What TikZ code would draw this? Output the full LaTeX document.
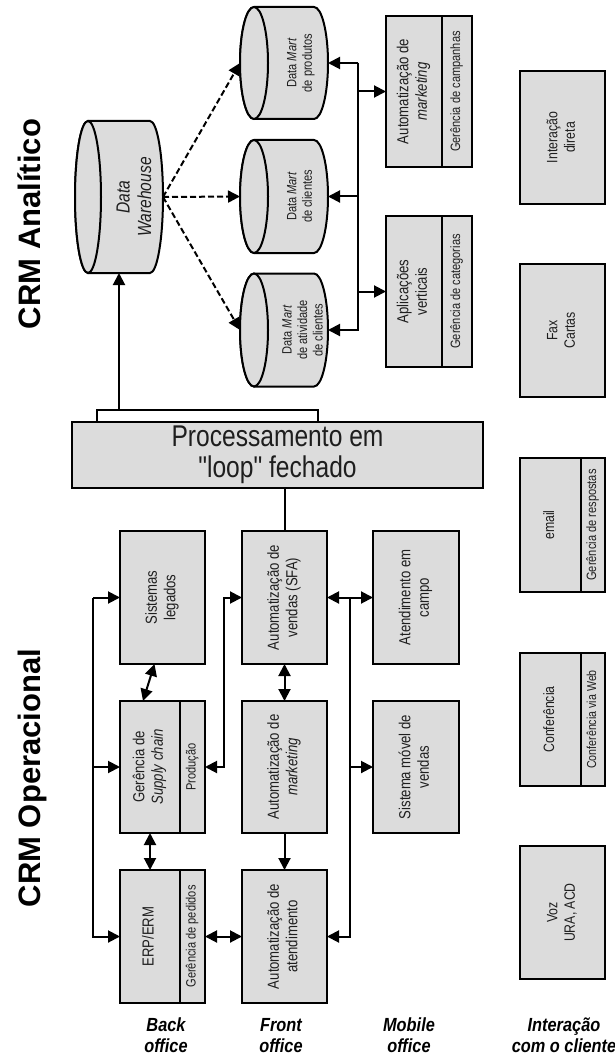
\documentclass[tikz,border=0pt]{standalone}
\usepackage{graphicx}
\usepackage{fontspec}
\setmainfont{Liberation Sans}
\newfontfamily\narrowfont{Liberation Sans}[FakeStretch=0.82]
\newfontfamily\labelfont{Liberation Sans}[FakeStretch=0.86]
\usetikzlibrary{arrows.meta,calc}
\definecolor{BoxGray}{RGB}{220,220,220}
\definecolor{InkGray}{RGB}{30,30,30}

\newcommand{\vlabel}[1]{\rotatebox{90}{\begin{tabular}{@{}c@{}}#1\end{tabular}}}
%% cylinder lying on its side, drawn round an empty node
\newcommand{\drum}[3]{%
  \draw[cyl] ($(#1.north west)+(#2,0)$) -- ($(#1.north east)-(#2,0)$)
    arc[start angle=90,end angle=-90,x radius=#2,y radius=#3]
    -- ($(#1.south west)+(#2,0)$)
    arc[start angle=270,end angle=90,x radius=#2,y radius=#3] -- cycle;
  \draw[cyl] ($(#1.west)+(#2,0)$) ellipse[x radius=#2,y radius=#3];}

\begin{document}
\begin{tikzpicture}[x=1pt,y=1pt,
    box/.style={draw=black, line width=2pt, fill=BoxGray, inner sep=0pt, outer sep=0pt,
      text=InkGray, font=\narrowfont\fontsize{16}{18.5}\selectfont},
    txt/.style={inner sep=0pt, text=InkGray},
    slot/.style={inner sep=0pt, outer sep=0pt},
    small/.style={font=\narrowfont\fontsize{13.5}{15.5}\selectfont},
    contact/.style={font=\narrowfont\fontsize{15}{17.5}\selectfont},
    tall/.style={minimum width=85pt, minimum height=133pt},
    cyl/.style={draw=black, line width=2pt, fill=BoxGray},
    link/.style={line width=2pt},
    arr/.style={link, -{Triangle[length=12pt,width=12pt]}},
    arrr/.style={link, {Triangle[length=12pt,width=12pt]}-{Triangle[length=12pt,width=12pt]}},
    feed/.style={arr, dash pattern=on 6pt off 3pt},
    title/.style={rotate=90, anchor=base, inner sep=0pt, font=\bfseries\fontsize{31}{36}\selectfont},
    lbl/.style={anchor=north, align=center, inner sep=0pt, font=\labelfont\bfseries\itshape\fontsize{19}{21}\selectfont}]
    \useasboundingbox (0,0) rectangle (615,-1059);

    %%CRM analitico
    \node[title] (titAna) at (40,-224) {CRM Analítico};
    \node[slot, minimum width=88pt, minimum height=152pt] (dw) at (119,-197) {};
    \drum{dw}{13}{76}
    \node[txt, font=\narrowfont\itshape\fontsize{19}{21.5}\selectfont] (dwTxt) at (136,-197) {\vlabel{Data\\Warehouse}};

    %% data marts
    \node[slot, minimum width=88pt, minimum height=112pt] (dmProd) at (284,-63) {};
    \node[slot, minimum width=88pt, minimum height=113pt] (dmCli) at (284,-196.5) {};
    \node[slot, minimum width=88pt, minimum height=113pt] (dmAtiv) at (284,-330) {};
    \drum{dmProd}{14}{56}
    \drum{dmCli}{14}{56.5}
    \drum{dmAtiv}{14}{56.5}
    \node[txt, small] (dmProdTxt) at (301,-63) {\vlabel{Data \textit{Mart}\\de produtos}};
    \node[txt, small] (dmCliTxt) at (301,-196.5) {\vlabel{Data \textit{Mart}\\de clientes}};
    \node[txt, small] (dmAtivTxt) at (304,-330) {\vlabel{Data \textit{Mart}\\de atividade\\de clientes}};
    \draw[feed] (dw.east) -- (dmProd.west);
    \draw[feed] (dw.east) -- (dmCli.west);
    \draw[feed] (dw.east) -- (dmAtiv.west);

    %% aplicacoes analiticas
    \node[box, minimum width=56pt, minimum height=151pt] (amk) at (414,-91.5) {\vlabel{Automatização de\\\textit{marketing}}};
    \node[box, small, minimum width=30pt, minimum height=151pt] (amkSub) at (457,-91.5) {\vlabel{Gerência de campanhas}};
    \node[box, minimum width=56pt, minimum height=151pt] (apv) at (414,-291.5) {\vlabel{Aplicações\\verticais}};
    \node[box, small, minimum width=30pt, minimum height=151pt] (apvSub) at (457,-291.5) {\vlabel{Gerência de categorias}};
    \coordinate (busA) at (358,-63);
    \draw[arr] (busA) -- (dmProd.east);
    \draw[arr] (busA) |- (dmCli.east);
    \draw[arr] (busA) |- (dmAtiv.east);
    \draw[arr] (busA) |- (amk.west);
    \draw[arr] (busA) |- (apv.west);

    %% loop fechado
    \node[box, fill=white, minimum width=221pt, minimum height=12pt] (loopCap) at (207.5,-416) {};
    \node[box, align=center, font=\narrowfont\fontsize{30}{31}\selectfont,
      minimum width=411pt, minimum height=66pt] (proc) at (277.5,-455) {Processamento em\\"loop" fechado};
    \draw[arr] (loopCap.north -| dw.south) -- (dw.south);

    %%%%%%%%%%%%%%%%%%%%%%%%%%%%%%%%%%%%%%%%%%%%%%%%

    %%CRM operacional
    \node[title] (titOpe) at (40,-778) {CRM Operacional};
    %% back office
    \node[box, tall] (leg) at (162.5,-597.5) {\vlabel{Sistemas\\legados}};
    \node[box, minimum width=60pt, minimum height=132pt] (scm) at (150,-767) {\vlabel{Gerência de\\\textit{Supply chain}}};
    \node[box, small, minimum width=25pt, minimum height=132pt] (scmSub) at (192.5,-767) {\vlabel{Produção}};
    \node[box, minimum width=60pt, minimum height=133pt] (erp) at (150,-936.5) {\vlabel{ERP/ERM}};
    \node[box, small, minimum width=25pt, minimum height=133pt] (erpSub) at (192.5,-936.5) {\vlabel{Gerência de pedidos}};
    %% front office
    \node[box, tall] (sfa) at (284.5,-597.5) {\vlabel{Automatização de\\vendas (SFA)}};
    \node[box, minimum width=85pt, minimum height=132pt] (mkt) at (284.5,-767) {\vlabel{Automatização de\\\textit{marketing}}};
    \node[box, tall] (atd) at (284.5,-936.5) {\vlabel{Automatização de\\atendimento}};
    %% mobile office
    \node[box, minimum width=86pt, minimum height=133pt] (campo) at (416,-597.5) {\vlabel{Atendimento em\\campo}};
    \node[box, minimum width=86pt, minimum height=132pt] (movel) at (416,-767) {\vlabel{Sistema móvel de\\vendas}};

    %% connectors
    \draw[link] (proc.south -| sfa.north) -- (sfa.north);
    \coordinate (busL) at ($(leg.west)+(-27,0)$);
    \draw[arr] (busL) -- (leg.west);
    \draw[arr] (busL) |- (scm.west);
    \draw[arr] (busL) |- (erp.west);
    \draw[arrr] ($(leg.south)+(-8,0)$) -- ($(scm.north)+(-7,0)$);
    \draw[arrr] (scm.south) -- (erp.north);
    \draw[arrr] (scmSub.east) -- ++(19,0) |- (sfa.west);
    \draw[arrr] (sfa.south) -- (mkt.north);
    \draw[arr] (mkt.south) -- (atd.north);
    \draw[arrr] (erpSub.east) -- (atd.west);
    \coordinate (busR) at ($(sfa.east)!0.5!(campo.west)$);
    \draw[arrr] (sfa.east) -- (campo.west);
    \draw[arr] (busR) |- (movel.west);
    \draw[arr] (busR) |- (atd.east);

    %% interacao com o cliente
    \node[box, contact, tall] (direta) at (562.5,-137.5) {\vlabel{Interação\\direta}};
    \node[box, contact, tall] (fax) at (562.5,-330.5) {\vlabel{Fax\\Cartas}};
    \node[box, contact, minimum width=61pt, minimum height=134pt] (email) at (550.5,-525) {\vlabel{email}};
    \node[box, small, minimum width=24pt, minimum height=134pt] (emailSub) at (593,-525) {\vlabel{Gerência de respostas}};
    \node[box, contact, minimum width=61pt, minimum height=133pt] (conf) at (550.5,-719.5) {\vlabel{Conferência}};
    \node[box, font=\narrowfont\fontsize{13}{15}\selectfont, minimum width=24pt, minimum height=133pt] (confSub) at (593,-719.5) {\vlabel{Conferência via Web}};
    \node[box, contact, tall] (voz) at (562.5,-912.5) {\vlabel{Voz\\URA, ACD}};

    %% columns
    \node[lbl] (lblBack) at (166,-1018) {Back\\office};
    \node[lbl] (lblFront) at (281,-1018) {Front\\office};
    \node[lbl] (lblMobile) at (409,-1018) {Mobile\\office};
    \node[lbl] (lblCliente) at (564,-1018) {Interação\\com o cliente};
\end{tikzpicture}
\end{document}
